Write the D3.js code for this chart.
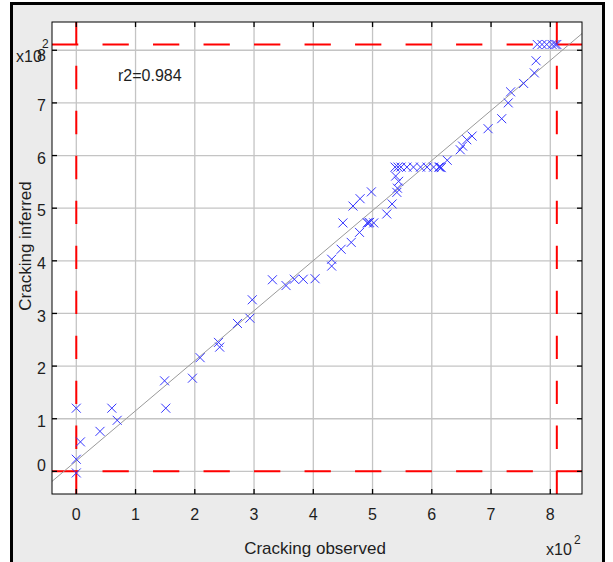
<!DOCTYPE html>
<html>
<head>
<meta charset="utf-8">
<script src="https://cdn.jsdelivr.net/npm/d3@7"></script>
<style>
  html, body { margin: 0; padding: 0; background: #ffffff; }
  svg { display: block; }
  text { font-family: "Liberation Sans", Arial, Helvetica, sans-serif; fill: #1e1e1e; }
</style>
</head>
<body>
<script>
// Observed vs. inferred cracking (raw units; axes are labelled in hundreds)
const observed = [
  0, 60, 69, 40, 7, 0, 0, 151, 149, 196,
  209, 240, 242, 272, 293, 297, 331, 354, 368, 383,
  403, 431, 431, 447, 464, 478, 450, 491, 493, 495,
  502, 467, 479, 498, 524, 533, 541, 542, 544, 539,
  538, 543, 548, 558, 569, 581, 592, 603, 612, 614,
  616, 626, 648, 652, 659, 668, 695, 718, 729, 733,
  755, 773, 776, 778, 786, 794, 803, 808, 811
];
const inferred = [
  120, 120, 97, 76, 56, 23, -3, 120, 172, 177,
  216, 245, 236, 281, 291, 326, 364, 353, 365, 365,
  366, 390, 403, 422, 435, 454, 472, 472, 472, 473,
  472, 504, 518, 531, 489, 508, 530, 538, 551, 561,
  578, 578, 578, 578, 578, 578, 578, 578, 578, 578,
  577, 591, 611, 618, 630, 637, 651, 670, 700, 721,
  737, 757, 780, 811, 811, 811, 811, 811, 811
];

// Limits of the data (red dashed reference lines)
const dataMin = 0;
const dataMax = 811;

// Regression line and its coefficient of determination
const fitIntercept = 20;
const fitSlope = 0.951;
const rSquared = "0.984";

// Axis ticks (in raw units) and their labels (in hundreds)
const tickValues = [0, 100, 200, 300, 400, 500, 600, 700, 800];
const tickLabels = ["0", "1", "2", "3", "4", "5", "6", "7", "8"];

const xDomain = [-41, 853.5];
const yDomain = [-43, 853.7];

const W = 613, H = 562;
const plot = { left: 52, right: 582, top: 22, bottom: 494 };

const svg = d3.select("body").append("svg")
  .attr("width", W).attr("height", H);

// Figure panel
svg.append("rect")
  .attr("x", 11.5).attr("y", 3.5)
  .attr("width", 592).attr("height", 560)
  .attr("fill", "#ebebeb")
  .attr("stroke", "#000").attr("stroke-width", 3);

const x = d3.scaleLinear().domain(xDomain).range([plot.left, plot.right]);
const y = d3.scaleLinear().domain(yDomain).range([plot.bottom, plot.top]);

const pw = plot.right - plot.left, ph = plot.bottom - plot.top;

svg.append("defs").append("clipPath").attr("id", "plotClip")
  .append("rect").attr("x", plot.left).attr("y", plot.top)
  .attr("width", pw).attr("height", ph);

svg.append("rect")
  .attr("x", plot.left).attr("y", plot.top)
  .attr("width", pw).attr("height", ph)
  .attr("fill", "#ffffff");

const inner = svg.append("g").attr("clip-path", "url(#plotClip)");

// Grid
inner.append("g").selectAll("line").data(tickValues).join("line")
  .attr("x1", d => x(d)).attr("x2", d => x(d))
  .attr("y1", plot.top).attr("y2", plot.bottom)
  .attr("stroke", "#c4c4c4").attr("stroke-width", 1.3);
inner.append("g").selectAll("line").data(tickValues).join("line")
  .attr("y1", d => y(d)).attr("y2", d => y(d))
  .attr("x1", plot.left).attr("x2", plot.right)
  .attr("stroke", "#c4c4c4").attr("stroke-width", 1.3);

// Red dashed lines at the data limits
const dashFor = L => `${(L * 0.0496).toFixed(2)},${(L * 0.0457).toFixed(2)}`;
inner.append("g").selectAll("line").data([dataMin, dataMax]).join("line")
  .attr("x1", plot.left).attr("x2", plot.right)
  .attr("y1", d => y(d)).attr("y2", d => y(d))
  .attr("stroke", "#ff0000").attr("stroke-width", 2)
  .attr("stroke-dasharray", dashFor(pw));
inner.append("g").selectAll("line").data([dataMin, dataMax]).join("line")
  .attr("x1", d => x(d)).attr("x2", d => x(d))
  .attr("y1", plot.bottom).attr("y2", plot.top)
  .attr("stroke", "#ff0000").attr("stroke-width", 2)
  .attr("stroke-dasharray", dashFor(ph));

// Regression line across the whole plot
inner.append("line")
  .attr("x1", x(xDomain[0])).attr("y1", y(fitIntercept + fitSlope * xDomain[0]))
  .attr("x2", x(xDomain[1])).attr("y2", y(fitIntercept + fitSlope * xDomain[1]))
  .attr("stroke", "#9a9a9a").attr("stroke-width", 1);

// Data markers (crosses)
const pts = observed.map((o, i) => [o, inferred[i]]);
const r = 4.5;
const marks = inner.append("g")
  .attr("stroke", "#3636ff").attr("stroke-width", 1).attr("fill", "none");
marks.selectAll("path").data(pts).join("path")
  .attr("d", d => {
    const cx = x(d[0]), cy = y(d[1]);
    return `M${cx - r},${cy - r}L${cx + r},${cy + r}M${cx - r},${cy + r}L${cx + r},${cy - r}`;
  });

// Plot frame
svg.append("rect")
  .attr("x", plot.left).attr("y", plot.top)
  .attr("width", pw).attr("height", ph)
  .attr("fill", "none").attr("stroke", "#000").attr("stroke-width", 1);

// Inward tick marks on all four sides
const tl = 5;
const ticks = svg.append("g").attr("stroke", "#000").attr("stroke-width", 1.3);
tickValues.forEach(v => {
  ticks.append("line").attr("x1", x(v)).attr("x2", x(v)).attr("y1", plot.bottom).attr("y2", plot.bottom - tl);
  ticks.append("line").attr("x1", x(v)).attr("x2", x(v)).attr("y1", plot.top).attr("y2", plot.top + tl);
  ticks.append("line").attr("y1", y(v)).attr("y2", y(v)).attr("x1", plot.left).attr("x2", plot.left + tl);
  ticks.append("line").attr("y1", y(v)).attr("y2", y(v)).attr("x1", plot.right).attr("x2", plot.right - tl);
});

// Tick labels
svg.append("g").selectAll("text").data(tickValues).join("text")
  .attr("x", d => x(d)).attr("y", 520)
  .attr("text-anchor", "middle").attr("font-size", 16)
  .text((d, i) => tickLabels[i]);

const last = tickValues.length - 1;
svg.append("g").selectAll("text").data(tickValues).join("text")
  .attr("x", 46)
  .attr("y", (d, i) => {
    const c = y(d) + (i === 0 ? -5.6 : i === last ? 5.5 : 2.5);
    return c + 5.7;
  })
  .attr("text-anchor", "end").attr("font-size", 16)
  .text((d, i) => tickLabels[i]);

// Exponent markers
svg.append("text").attr("x", 16).attr("y", 62).attr("font-size", 16).text("x10");
svg.append("text").attr("x", 42).attr("y", 48).attr("font-size", 12).text("2");

svg.append("text").attr("x", 546).attr("y", 555).attr("font-size", 16).text("x10");
svg.append("text").attr("x", 574).attr("y", 544).attr("font-size", 12).text("2");

// Axis titles
svg.append("text")
  .attr("x", 315).attr("y", 554)
  .attr("text-anchor", "middle").attr("font-size", 17)
  .text("Cracking observed");
svg.append("text")
  .attr("transform", "translate(31,246) rotate(-90)")
  .attr("text-anchor", "middle").attr("font-size", 17)
  .text("Cracking inferred");

// Goodness of fit
svg.append("text")
  .attr("x", 118).attr("y", 81).attr("font-size", 16)
  .text("r2=" + rSquared);
</script>
</body>
</html>
